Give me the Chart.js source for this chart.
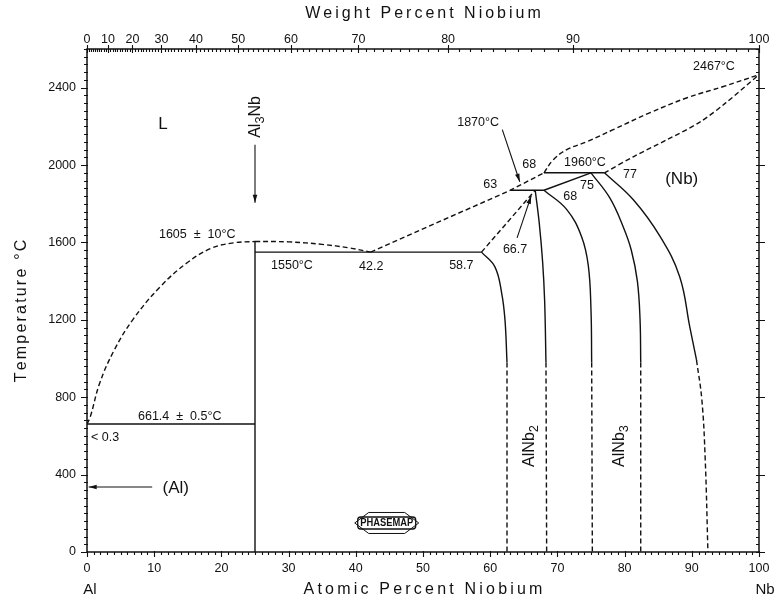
<!DOCTYPE html>
<html>
<head>
<meta charset="utf-8">
<script src="https://cdn.jsdelivr.net/npm/chart.js@4.4.0/dist/chart.umd.min.js"></script>
<style>
  html, body { margin: 0; padding: 0; background: #fff; }
  #wrap { width: 779px; height: 601px; }
</style>
</head>
<body>
<div id="wrap"><canvas id="chart" width="779" height="601"></canvas></div>
<script>
// Al–Nb phase diagram: atomic % Nb (x) against temperature in °C (y)

// invariant temperatures (°C)
const T_EUTECTIC = 661.4;
const T_AL3NB_MELT = 1605;
const T_PERITECTIC_1 = 1550;
const T_PERITECTIC_2 = 1870;
const T_PERITECTIC_3 = 1960;
const T_NB_MELT = 2467;

// boundary lines as [at.% Nb, °C] points
const liquidusAlSide   = [[0, 661.4], [0.5, 700], [1.9, 874], [4, 1040], [6.8, 1200], [10.9, 1371], [14.9, 1495], [18.5, 1570], [21.8, 1598], [25, 1605]];
const liquidusAl3Nb    = [[25, 1605], [30, 1603], [35, 1590], [39, 1572], [42.2, 1550]];
const liquidusMid      = [[42.2, 1550], [63, 1870], [68, 1960]];
const liquidusNbSide   = [[68, 1960], [69.4, 2028], [71.4, 2080], [74.4, 2121], [78.3, 2183], [83.8, 2271], [89.3, 2348], [94.7, 2406], [100, 2467]];
const solidusNb        = [[77, 1960], [81.3, 2043], [86.3, 2131], [91.2, 2222], [95, 2320], [100, 2467]];

const eutecticLine     = [[0, 661.4], [25, 661.4]];
const al3NbLine        = [[25, 0], [25, 1605]];
const peritectic1550   = [[25, 1550], [58.7, 1550]];
const peritectic1870   = [[63, 1870], [68, 1870]];
const peritectic1960   = [[68, 1960], [77, 1960]];
const alNb3Solidus     = [[68, 1870], [75, 1960]];

const alNb2LeftHigh    = [[58.7, 1550], [66.7, 1870]];
const alNb2LeftSolid   = [[58.7, 1550], [60.7, 1474], [61.7, 1340], [62.2, 1200], [62.5, 980]];
const alNb2LeftLow     = [[62.5, 980], [62.5, 0]];
const alNb2RightSolid  = [[66.7, 1870], [67.3, 1700], [67.8, 1500], [68.1, 1300], [68.3, 980]];
const alNb2RightLow    = [[68.3, 980], [68.4, 0]];
const alNb3LeftSolid   = [[68, 1870], [71.4, 1770], [73.6, 1630], [74.6, 1480], [75.0, 1250], [75.1, 980]];
const alNb3LeftLow     = [[75.1, 980], [75.2, 0]];
const alNb3RightSolid  = [[75, 1960], [77.8, 1830], [79.8, 1680], [81.0, 1560], [81.9, 1400], [82.3, 1200], [82.4, 980]];
const alNb3RightLow    = [[82.4, 980], [82.4, 0]];
const nbSolvusSolid    = [[77, 1960], [81.3, 1821], [85.3, 1630], [88.2, 1423], [89.7, 1164], [90.7, 993]];
const nbSolvusLow      = [[90.7, 993], [91.5, 786], [92.0, 476], [92.4, 0]];

// axis ticks
const tempTicks   = [0, 400, 800, 1200, 1600, 2000, 2400];
const atomicTicks = [0, 10, 20, 30, 40, 50, 60, 70, 80, 90, 100];
const weightTicks = [0, 10, 20, 30, 40, 50, 60, 70, 80, 90, 100];

const MASS_AL = 26.98, MASS_NB = 92.906;
const atomicFromWeight = w => {
  const nb = w / MASS_NB, al = (100 - w) / MASS_AL;
  return 100 * nb / (nb + al);
};

const FONT = '"Liberation Sans", Arial, sans-serif';
const INK = '#111';

const toXY = pts => pts.map(([x, y]) => ({ x, y }));
const solid = (pts, tension = 0) => ({
  data: toXY(pts), showLine: true, pointRadius: 0, borderColor: INK,
  borderWidth: 1.4, tension, fill: false
});
const dashed = (pts, tension = 0) => Object.assign(solid(pts, tension), { borderDash: [5, 3] });

const datasets = [
  dashed(liquidusAlSide, 0.4),
  dashed(liquidusAl3Nb, 0.4),
  dashed(liquidusMid),
  dashed(liquidusNbSide, 0.4),
  dashed(solidusNb, 0.3),
  solid(eutecticLine),
  solid(al3NbLine),
  solid(peritectic1550),
  solid(peritectic1870),
  solid(peritectic1960),
  solid(alNb3Solidus),
  dashed(alNb2LeftHigh),
  solid(alNb2LeftSolid, 0.4),
  dashed(alNb2LeftLow),
  solid(alNb2RightSolid, 0.4),
  dashed(alNb2RightLow),
  solid(alNb3LeftSolid, 0.4),
  dashed(alNb3LeftLow),
  solid(alNb3RightSolid, 0.4),
  dashed(alNb3RightLow),
  solid(nbSolvusSolid, 0.4),
  dashed(nbSolvusLow, 0.4)
];

// text placed on the diagram (data coordinates)
const notes = [
  { t: 'L', x: 11.3, y: 2209, size: 17 },
  { t: `${T_AL3NB_MELT}  ±  10°C`, x: 16.4, y: 1640 },
  { t: `${T_PERITECTIC_1}°C`, x: 30.5, y: 1480 },
  { t: '42.2', x: 42.3, y: 1478 },
  { t: '58.7', x: 55.7, y: 1480 },
  { t: '66.7', x: 63.7, y: 1565 },
  { t: '63', x: 60.0, y: 1898 },
  { t: '68', x: 65.8, y: 2004 },
  { t: `${T_PERITECTIC_3}°C`, x: 74.1, y: 2012 },
  { t: '68', x: 71.9, y: 1836 },
  { t: '75', x: 74.4, y: 1893 },
  { t: '77', x: 80.8, y: 1950 },
  { t: '(Nb)', x: 88.5, y: 1924, size: 17 },
  { t: `${T_NB_MELT}°C`, x: 93.3, y: 2509 },
  { t: `${T_PERITECTIC_2}°C`, x: 58.2, y: 2219 },
  { t: `${T_EUTECTIC}  ±  0.5°C`, x: 13.8, y: 700 },
  { t: '< 0.3', x: 2.7, y: 590 },
  { t: '(Al)', x: 13.2, y: 331, size: 17 },
  { t: 'Al₃Nb', x: 25.1, y: 2249, size: 16, rot: true },
  { t: 'AlNb₂', x: 65.9, y: 548, size: 16, rot: true },
  { t: 'AlNb₃', x: 79.3, y: 548, size: 16, rot: true }
];

// pointer arrows: from -> to (data coordinates)
const pointers = [
  { from: [25, 2105], to: [25, 1805] },
  { from: [9.7, 336], to: [0.25, 336] },
  { from: [61.8, 2183], to: [64.4, 1914] },
  { from: [64.0, 1624], to: [66.1, 1841] }
];

const SUBSCRIPTS = { '₀': '0', '₁': '1', '₂': '2', '₃': '3', '₄': '4' };

// text with subscript digits drawn lowered at a smaller size, centred on (cx, cy)
function formulaText(ctx, s, cx, cy, size) {
  const runs = [];
  for (const ch of s) {
    const sub = SUBSCRIPTS[ch] !== undefined;
    const c = sub ? SUBSCRIPTS[ch] : ch;
    if (runs.length && runs[runs.length - 1].sub === sub) runs[runs.length - 1].t += c;
    else runs.push({ t: c, sub });
  }
  const subSize = size * 0.8;
  runs.forEach(r => {
    ctx.font = `${r.sub ? subSize : size}px ${FONT}`;
    r.w = ctx.measureText(r.t).width;
  });
  const total = runs.reduce((a, r) => a + r.w, 0);
  let x0 = cx - total / 2;
  ctx.textAlign = 'left';
  runs.forEach(r => {
    ctx.font = `${r.sub ? subSize : size}px ${FONT}`;
    ctx.fillText(r.t, x0, cy + (r.sub ? size * 0.28 : 0));
    x0 += r.w;
  });
  ctx.textAlign = 'center';
}

function spacedText(ctx, s, cx, cy, gap) {
  const chars = [...s];
  const widths = chars.map(c => ctx.measureText(c).width);
  const total = widths.reduce((a, b) => a + b, 0) + gap * (chars.length - 1);
  let x0 = cx - total / 2;
  ctx.textAlign = 'left';
  chars.forEach((c, i) => { ctx.fillText(c, x0, cy); x0 += widths[i] + gap; });
  ctx.textAlign = 'center';
}

function arrow(ctx, x1, y1, x2, y2) {
  const head = 8, half = 2.3;
  ctx.beginPath(); ctx.moveTo(x1, y1); ctx.lineTo(x2, y2); ctx.stroke();
  const a = Math.atan2(y2 - y1, x2 - x1), c = Math.cos(a), s = Math.sin(a);
  ctx.beginPath();
  ctx.moveTo(x2, y2);
  ctx.lineTo(x2 - head * c + half * s, y2 - head * s - half * c);
  ctx.lineTo(x2 - head * c - half * s, y2 - head * s + half * c);
  ctx.closePath(); ctx.fill();
}

const diagramFrame = {
  id: 'diagramFrame',
  afterDatasetsDraw(chart) {
    const { ctx, chartArea: a, scales: { x, y } } = chart;
    ctx.save();
    ctx.strokeStyle = INK; ctx.fillStyle = INK;

    // frame
    ctx.lineWidth = 1.5;
    ctx.strokeRect(a.left, a.top, a.right - a.left, a.bottom - a.top);

    ctx.lineWidth = 1.1;
    ctx.beginPath();
    // temperature ticks, left and right
    for (let t = 0; t <= 2600; t += 40) {
      const py = Math.round(y.getPixelForValue(t)) + 0.5;
      const major = t % 400 === 0;
      ctx.moveTo(a.left - (major ? 6 : 3), py); ctx.lineTo(a.left + 1, py);
      ctx.moveTo(a.right - 3, py); ctx.lineTo(a.right + (major ? 6 : 0), py);
    }
    // atomic percent ticks, bottom
    for (let v = 0; v <= 100; v += 1) {
      const px = Math.round(x.getPixelForValue(v)) + 0.5;
      const major = v % 10 === 0;
      ctx.moveTo(px, a.bottom - (major ? 1 : 0)); ctx.lineTo(px, a.bottom + (major ? 5 : 3));
    }
    // weight percent ticks, top
    for (let w = 0; w <= 100.001; w += (w < 90 ? 1 : 0.5)) {
      const px = Math.round(x.getPixelForValue(atomicFromWeight(w))) + 0.5;
      const major = Math.abs(w % 10) < 1e-6;
      ctx.moveTo(px, a.top - (major ? 4 : 0)); ctx.lineTo(px, a.top + (major ? 4 : 3));
    }
    ctx.stroke();

    // tick labels
    ctx.font = `12.5px ${FONT}`;
    ctx.textBaseline = 'middle';
    ctx.textAlign = 'right';
    tempTicks.forEach(t => ctx.fillText(String(t), a.left - 11, y.getPixelForValue(t)));
    ctx.textAlign = 'center';
    ctx.textBaseline = 'top';
    atomicTicks.forEach(v => ctx.fillText(String(v), x.getPixelForValue(v), a.bottom + 10));
    ctx.textBaseline = 'alphabetic';
    weightTicks.forEach(w => ctx.fillText(String(w), x.getPixelForValue(atomicFromWeight(w)), a.top - 6));

    // element labels under the axis ends
    ctx.font = `15px ${FONT}`;
    ctx.textBaseline = 'middle';
    ctx.fillText('Al', x.getPixelForValue(0) + 3, 590);
    ctx.fillText('Nb', x.getPixelForValue(100) + 6, 590);

    // axis titles
    ctx.font = `16px ${FONT}`;
    spacedText(ctx, 'Weight Percent Niobium', (a.left + a.right) / 2, 14, 3.0);
    spacedText(ctx, 'Atomic Percent Niobium', (a.left + a.right) / 2, 590, 3.2);
    ctx.save();
    ctx.translate(22, 311);
    ctx.rotate(-Math.PI / 2);
    spacedText(ctx, 'Temperature °C', 0, 0, 2.2);
    ctx.restore();

    // annotations
    ctx.textAlign = 'center';
    ctx.textBaseline = 'middle';
    notes.forEach(n => {
      const size = n.size || 12.5;
      ctx.font = `${size}px ${FONT}`;
      const px = x.getPixelForValue(n.x), py = y.getPixelForValue(n.y);
      if (n.rot) {
        ctx.save(); ctx.translate(px, py); ctx.rotate(-Math.PI / 2);
        formulaText(ctx, n.t, 0, 0, size); ctx.restore();
      } else {
        ctx.fillText(n.t, px, py);
      }
    });

    ctx.lineWidth = 1.1;
    pointers.forEach(p => arrow(ctx,
      x.getPixelForValue(p.from[0]), y.getPixelForValue(p.from[1]),
      x.getPixelForValue(p.to[0]), y.getPixelForValue(p.to[1])));

    // PHASEMAP badge
    const cx = x.getPixelForValue(44.6), cy = y.getPixelForValue(150);
    ctx.lineWidth = 1;
    ctx.beginPath();
    ctx.moveTo(cx - 32, cy); ctx.lineTo(cx - 18, cy - 10.5); ctx.lineTo(cx + 18, cy - 10.5);
    ctx.lineTo(cx + 32, cy); ctx.lineTo(cx + 18, cy + 10.5); ctx.lineTo(cx - 18, cy + 10.5);
    ctx.closePath(); ctx.stroke();
    ctx.lineWidth = 1.3;
    ctx.beginPath();
    ctx.roundRect(cx - 29, cy - 6, 58, 12, 3);
    ctx.stroke();
    ctx.font = `bold 10px ${FONT}`;
    const tw = ctx.measureText('PHASEMAP').width;
    ctx.save(); ctx.translate(cx, cy + 0.5); ctx.scale(53 / tw, 1);
    ctx.fillText('PHASEMAP', 0, 0); ctx.restore();

    ctx.restore();
  }
};

new Chart(document.getElementById('chart'), {
  type: 'scatter',
  data: { datasets },
  options: {
    responsive: false,
    animation: false,
    devicePixelRatio: 1,
    layout: { padding: { left: 87, right: 20, top: 49, bottom: 49 } },
    scales: {
      x: { type: 'linear', min: 0, max: 100, display: false },
      y: { type: 'linear', min: 0, max: 2600, display: false }
    },
    plugins: { legend: { display: false }, tooltip: { enabled: false } },
    elements: { line: { borderCapStyle: 'butt' } }
  },
  plugins: [diagramFrame]
});
</script>
</body>
</html>
